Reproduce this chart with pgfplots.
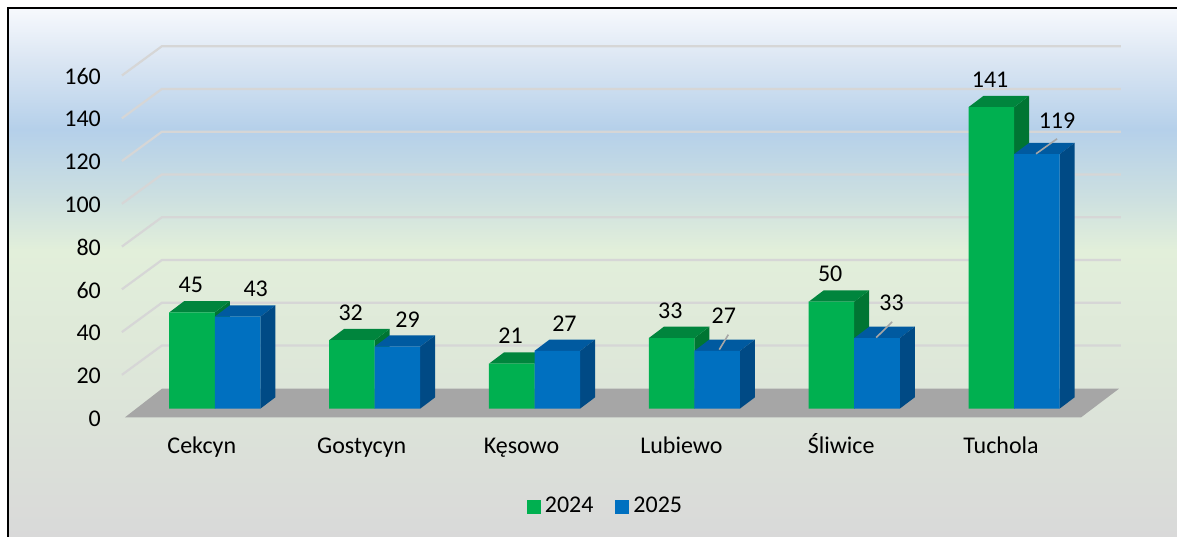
\documentclass[border=0pt]{standalone}
\usepackage{fontspec}
\setmainfont{Carlito}
\usepackage{pgfplots}
\pgfplotsset{compat=1.18}
\definecolor{gFront}{HTML}{00B050}
\definecolor{gTop}{HTML}{00853D}
\definecolor{gSide}{HTML}{007533}
\definecolor{bFront}{HTML}{0070C0}
\definecolor{bTop}{HTML}{005AA0}
\definecolor{bSide}{HTML}{004A85}
\definecolor{floorc}{HTML}{A6A6A6}
\definecolor{gridc}{HTML}{D6D6D6}
\definecolor{bg0}{HTML}{D9D9D9}
\definecolor{bg1}{HTML}{DDE6D9}
\definecolor{bg2}{HTML}{E2EFDA}
\definecolor{bg3}{HTML}{CDE0E0}
\definecolor{bg4}{HTML}{B5D0EA}
\definecolor{bg5}{HTML}{DBE6F3}
\definecolor{bg6}{HTML}{F7F9FD}
\pgfdeclareverticalshading{chartbg}{100bp}{color(0bp)=(bg0); color(25bp)=(bg0); color(39.8bp)=(bg1); color(52.1bp)=(bg2); color(56.9bp)=(bg3); color(63.5bp)=(bg4); color(70.1bp)=(bg5); color(75bp)=(bg6); color(100bp)=(bg6)}
\begin{document}
\begin{tikzpicture}[font=\fontsize{12}{14}\selectfont]
\begin{axis}[
  set layers,
  width=589pt, height=268.5pt, scale only axis,
  xmin=-1.34375, xmax=6.01875, ymin=-59.81, ymax=191.12,
  clip=false, axis line style={draw=none}, tick style={draw=none},
  xtick={0,1,2,3,4,5},
  xticklabels={Cekcyn,Gostycyn,Kęsowo,Lubiewo,Śliwice,Tuchola},
  xticklabel style={anchor=base, yshift=41.75pt, xshift=-6.5pt, font=\fontsize{12}{14}\selectfont},
  ytick={-4.67,15.33,35.33,55.33,75.33,95.33,115.33,135.33,155.33},
  yticklabels={0,20,40,60,80,100,120,140,160},
  yticklabel style={anchor=east, xshift=54pt, font=\fontsize{12}{14}\selectfont},
  /pgf/number format/assume math mode=true,
  legend columns=2,
  legend style={draw=none, fill=none, at={(0.5153,0.0559)}, anchor=center,
    font=\fontsize{12}{14}\selectfont,
    /tikz/every even column/.append style={column sep=9pt}},
  legend image code/.code={\fill[#1] (0pt,-3.5pt) rectangle (7pt,3.5pt);},
]
% background and frame
\begin{pgfonlayer}{axis background}
\shade[shading=chartbg] (axis cs:-1.29375,-59.81) rectangle (axis cs:6.01875,187.38);
\draw[line width=1.1pt, black] (axis cs:-1.29375,-59.81) -- (axis cs:-1.29375,187.38) -- (axis cs:6.01875,187.38);
\end{pgfonlayer}
% back-wall gridlines
\addplot[forget plot, gridc, line width=1.1pt] coordinates {(-0.58125,15.8) (-0.33125,29.5) (5.66875,29.5)};
\addplot[forget plot, gridc, line width=1.1pt] coordinates {(-0.58125,35.8) (-0.33125,49.5) (5.66875,49.5)};
\addplot[forget plot, gridc, line width=1.1pt] coordinates {(-0.58125,55.8) (-0.33125,69.5) (5.66875,69.5)};
\addplot[forget plot, gridc, line width=1.1pt] coordinates {(-0.58125,75.8) (-0.33125,89.5) (5.66875,89.5)};
\addplot[forget plot, gridc, line width=1.1pt] coordinates {(-0.58125,95.8) (-0.33125,109.5) (5.66875,109.5)};
\addplot[forget plot, gridc, line width=1.1pt] coordinates {(-0.58125,115.8) (-0.33125,129.5) (5.66875,129.5)};
\addplot[forget plot, gridc, line width=1.1pt] coordinates {(-0.58125,135.8) (-0.33125,149.5) (5.66875,149.5)};
\addplot[forget plot, gridc, line width=1.1pt] coordinates {(-0.58125,155.8) (-0.33125,169.5) (5.66875,169.5)};
% floor
\addplot[forget plot, fill=floorc, draw=none] coordinates {(-0.5625,-4.1) (5.4188,-4.1) (5.656,9.3) (-0.331,9.3)};
% green sides
\addplot[forget plot, fill=gSide, draw=none] coordinates {(0,0) (0,45) (0.094,50.3) (0.094,5.3)};
\addplot[forget plot, fill=gSide, draw=none] coordinates {(1,0) (1,32) (1.094,37.3) (1.094,5.3)};
\addplot[forget plot, fill=gSide, draw=none] coordinates {(2,0) (2,21) (2.094,26.3) (2.094,5.3)};
\addplot[forget plot, fill=gSide, draw=none] coordinates {(3,0) (3,33) (3.094,38.3) (3.094,5.3)};
\addplot[forget plot, fill=gSide, draw=none] coordinates {(4,0) (4,50) (4.094,55.3) (4.094,5.3)};
\addplot[forget plot, fill=gSide, draw=none] coordinates {(5,0) (5,141) (5.094,146.3) (5.094,5.3)};
% green tops
\addplot[forget plot, fill=gTop, draw=none] coordinates {(-0.285,45) (0,45) (0.094,50.3) (-0.191,50.3)};
\addplot[forget plot, fill=gTop, draw=none] coordinates {(0.715,32) (1,32) (1.094,37.3) (0.809,37.3)};
\addplot[forget plot, fill=gTop, draw=none] coordinates {(1.715,21) (2,21) (2.094,26.3) (1.809,26.3)};
\addplot[forget plot, fill=gTop, draw=none] coordinates {(2.715,33) (3,33) (3.094,38.3) (2.809,38.3)};
\addplot[forget plot, fill=gTop, draw=none] coordinates {(3.715,50) (4,50) (4.094,55.3) (3.809,55.3)};
\addplot[forget plot, fill=gTop, draw=none] coordinates {(4.715,141) (5,141) (5.094,146.3) (4.809,146.3)};
% green fronts (2024)
\addplot[ybar, bar width=0.285, bar shift=-0.1425, fill=gFront, draw=none]
  coordinates {(0,45) (1,32) (2,21) (3,33) (4,50) (5,141)};
\addlegendentry{2024}
% blue tops
\addplot[forget plot, fill=bTop, draw=none] coordinates {(0,43) (0.285,43) (0.379,48.3) (0.094,48.3)};
\addplot[forget plot, fill=bTop, draw=none] coordinates {(1,29) (1.285,29) (1.379,34.3) (1.094,34.3)};
\addplot[forget plot, fill=bTop, draw=none] coordinates {(2,27) (2.285,27) (2.379,32.3) (2.094,32.3)};
\addplot[forget plot, fill=bTop, draw=none] coordinates {(3,27) (3.285,27) (3.379,32.3) (3.094,32.3)};
\addplot[forget plot, fill=bTop, draw=none] coordinates {(4,33) (4.285,33) (4.379,38.3) (4.094,38.3)};
\addplot[forget plot, fill=bTop, draw=none] coordinates {(5,119) (5.285,119) (5.379,124.3) (5.094,124.3)};
% blue sides
\addplot[forget plot, fill=bSide, draw=none] coordinates {(0.285,0) (0.285,43) (0.379,48.3) (0.379,5.3)};
\addplot[forget plot, fill=bSide, draw=none] coordinates {(1.285,0) (1.285,29) (1.379,34.3) (1.379,5.3)};
\addplot[forget plot, fill=bSide, draw=none] coordinates {(2.285,0) (2.285,27) (2.379,32.3) (2.379,5.3)};
\addplot[forget plot, fill=bSide, draw=none] coordinates {(3.285,0) (3.285,27) (3.379,32.3) (3.379,5.3)};
\addplot[forget plot, fill=bSide, draw=none] coordinates {(4.285,0) (4.285,33) (4.379,38.3) (4.379,5.3)};
\addplot[forget plot, fill=bSide, draw=none] coordinates {(5.285,0) (5.285,119) (5.379,124.3) (5.379,5.3)};
% blue fronts (2025)
\addplot[ybar, bar width=0.285, bar shift=0.1425, fill=bFront, draw=none]
  coordinates {(0,43) (1,29) (2,27) (3,27) (4,33) (5,119)};
\addlegendentry{2025}
% leader lines
\addplot[forget plot, floorc, line width=0.8pt] coordinates {(3.156,27.6) (3.2125,34.6)};
\addplot[forget plot, floorc, line width=0.8pt] coordinates {(4.1375,33.2) (4.2375,40.6)};
\addplot[forget plot, floorc, line width=0.8pt] coordinates {(5.1375,119.2) (5.269,126.2)};
% data labels
\node at (axis cs:-0.15,57.9) {45};
\node at (axis cs:0.85,44.9) {32};
\node at (axis cs:1.85,33.9) {21};
\node at (axis cs:2.85,45.9) {33};
\node at (axis cs:3.85,62.9) {50};
\node at (axis cs:4.85,153.7) {141};
\node at (axis cs:0.256,56.1) {43};
\node at (axis cs:1.206,41.6) {29};
\node at (axis cs:2.1875,39.6) {27};
\node at (axis cs:3.184,43.5) {27};
\node at (axis cs:4.234,49.3) {33};
\node at (axis cs:5.269,134.8) {119};
\end{axis}
\end{tikzpicture}
\end{document}
